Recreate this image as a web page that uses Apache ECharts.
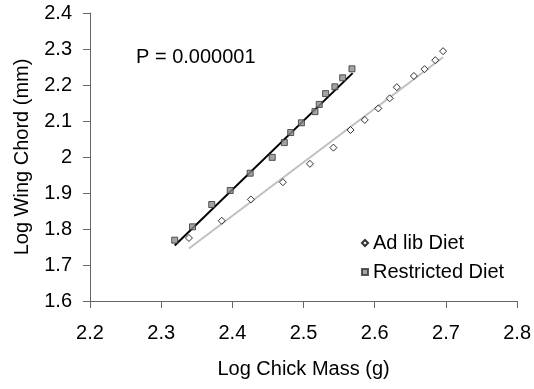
<!DOCTYPE html>
<html>
<head>
<meta charset="utf-8">
<script src="https://cdn.jsdelivr.net/npm/echarts@6/dist/echarts.min.js"></script>
<style>
  html, body { margin: 0; padding: 0; background: #fff; }
  #chart { width: 534px; height: 389px; }
</style>
</head>
<body>
<div id="chart"></div>
<script>
// values (log10 scale)
const adlibMass = [2.339, 2.385, 2.426, 2.471, 2.509, 2.542, 2.566, 2.586, 2.605, 2.621, 2.631, 2.655, 2.670, 2.685, 2.696];
const adlibWing = [1.775, 1.823, 1.882, 1.930, 1.981, 2.026, 2.075, 2.103, 2.135, 2.163, 2.194, 2.225, 2.244, 2.269, 2.294];
const restrictedMass = [2.319, 2.344, 2.371, 2.397, 2.425, 2.456, 2.473, 2.482, 2.497, 2.516, 2.522, 2.531, 2.544, 2.555, 2.568];
const restrictedWing = [1.769, 1.806, 1.868, 1.907, 1.955, 1.999, 2.040, 2.068, 2.095, 2.126, 2.146, 2.176, 2.195, 2.220, 2.245];
// fitted lines, end points as drawn in the picture
const adlibFitMass = [2.339, 2.696];
const adlibFitWing = [1.746, 2.277];
const restrictedFitMass = [2.319, 2.569];
const restrictedFitWing = [1.754, 2.233];
const pLabel = "P = 0.000001";

const FONT = "Liberation Sans, Arial, sans-serif";
const pairs = (xs, ys) => xs.map((x, i) => [x, ys[i]]);

const chart = echarts.init(document.getElementById("chart"), null, { renderer: "canvas" });

const axisCommon = {
  axisLine: { show: true, onZero: false, lineStyle: { color: "#666", width: 1 } },
  axisTick: { show: true, inside: false, length: 7, lineStyle: { color: "#666", width: 1 } },
  splitLine: { show: false },
  nameTextStyle: { color: "#000", fontSize: 20, fontFamily: FONT },
};

chart.setOption({
  animation: false,
  backgroundColor: "#fff",
  grid: { left: 90, right: 16, top: 13, bottom: 88 },
  xAxis: {
    ...axisCommon,
    type: "value",
    min: 2.2,
    max: 2.8,
    interval: 0.1,
    name: "Log Chick Mass (g)",
    nameLocation: "middle",
    nameGap: 58,
    axisLabel: { color: "#000", fontSize: 20, fontFamily: FONT, margin: 22 },
  },
  yAxis: {
    ...axisCommon,
    type: "value",
    min: 1.6,
    max: 2.4,
    interval: 0.1,
    name: "Log Wing Chord (mm)",
    nameLocation: "middle",
    nameGap: 58,
    axisLabel: { color: "#000", fontSize: 20, fontFamily: FONT, margin: 18 },
  },
  legend: {
    orient: "vertical",
    left: 356,
    top: 228,
    itemWidth: 6,
    itemHeight: 6,
    itemGap: 9,
    textStyle: { color: "#000", fontSize: 20, fontFamily: FONT },
    data: [
      { name: "Ad lib Diet", icon: "diamond" },
      { name: "Restricted Diet", icon: "rect" },
    ],
  },
  graphic: [
    {
      type: "text",
      left: 136,
      top: 47,
      style: { text: pLabel, fill: "#000", font: "20px " + FONT },
    },
  ],
  series: [
    {
      type: "line",
      data: pairs(adlibFitMass, adlibFitWing),
      showSymbol: false,
      lineStyle: { color: "#c0c0c0", width: 2 },
      silent: true,
      z: 1,
    },
    {
      type: "line",
      data: pairs(restrictedFitMass, restrictedFitWing),
      showSymbol: false,
      lineStyle: { color: "#000", width: 2 },
      silent: true,
      z: 1,
    },
    {
      name: "Ad lib Diet",
      type: "scatter",
      data: pairs(adlibMass, adlibWing),
      symbol: "diamond",
      symbolSize: 7,
      itemStyle: { color: "#fff", borderColor: "#000", borderWidth: 1 },
      z: 3,
    },
    {
      name: "Restricted Diet",
      type: "scatter",
      data: pairs(restrictedMass, restrictedWing),
      symbol: "rect",
      symbolSize: 6,
      itemStyle: { color: "#8c8c8c", borderColor: "#333", borderWidth: 1 },
      z: 3,
    },
  ],
});
</script>
</body>
</html>
